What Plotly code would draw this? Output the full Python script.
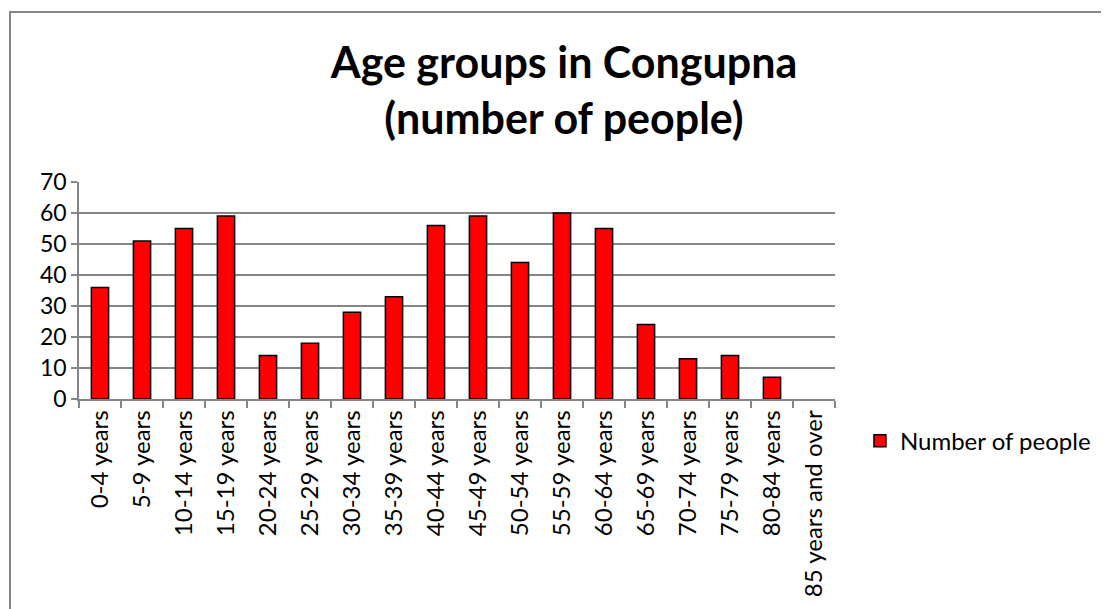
import plotly.graph_objects as go

categories = ["0-4 years", "5-9 years", "10-14 years", "15-19 years", "20-24 years",
              "25-29 years", "30-34 years", "35-39 years", "40-44 years", "45-49 years",
              "50-54 years", "55-59 years", "60-64 years", "65-69 years", "70-74 years",
              "75-79 years", "80-84 years", "85 years and over"]
values = [36, 51, 55, 59, 14, 18, 28, 33, 56, 59, 44, 60, 55, 24, 13, 14, 7, 0]
y_ticks = [0, 10, 20, 30, 40, 50, 60, 70]

font_family = "Lato, 'Open Sans', sans-serif"

fig = go.Figure()
fig.add_trace(go.Bar(
    x=categories, y=values, name="Number of people",
    marker=dict(color="#FF0000",
                line=dict(color="#000000", width=[1.5 if v > 0 else 0 for v in values])),
    showlegend=True,
))

fig.update_layout(
    width=1101, height=601,
    margin=dict(l=71, r=274, t=174, b=210, autoexpand=False),
    paper_bgcolor="white", plot_bgcolor="white",
    bargap=0.59,
    font=dict(family=font_family, color="black"),
    title=dict(
        text="<b>Age groups in Congupna<br>(number of people)</b>",
        x=0.505, xref="container", xanchor="center",
        y=0.884, yref="container", yanchor="middle",
        font=dict(size=43, family=font_family, color="black"),
    ),
    xaxis=dict(
        type="category", tickangle=-90, tickson="boundaries",
        ticks="outside", ticklen=7, tickcolor="#868686", tickwidth=1.5,
        showline=True, linecolor="#868686", linewidth=1.5,
        showgrid=False, tickfont=dict(size=24, family=font_family),
        automargin=False,
    ),
    yaxis=dict(
        range=[0, 70], tickvals=y_ticks, ticks="outside", ticklen=6,
        tickcolor="#868686", tickwidth=1.5, showline=True, linecolor="#868686", linewidth=1.5,
        showgrid=True, gridcolor="#868686", gridwidth=1.5,
        tickfont=dict(size=23, family=font_family), zeroline=False,
        automargin=False,
    ),
    legend=dict(
        x=1.033, xanchor="left", y=-0.194, yanchor="middle",
        font=dict(size=24, family=font_family),
        bgcolor="rgba(0,0,0,0)", itemwidth=30,
    ),
    shapes=[dict(
        type="rect", xref="paper", yref="paper",
        x0=(10 - 79) / 756, x1=1.6, y0=-1.5, y1=(399 - 12) / 217,
        line=dict(color="#868686", width=2), fillcolor="rgba(0,0,0,0)", layer="below",
    )],
)

fig.write_html("out.html")
